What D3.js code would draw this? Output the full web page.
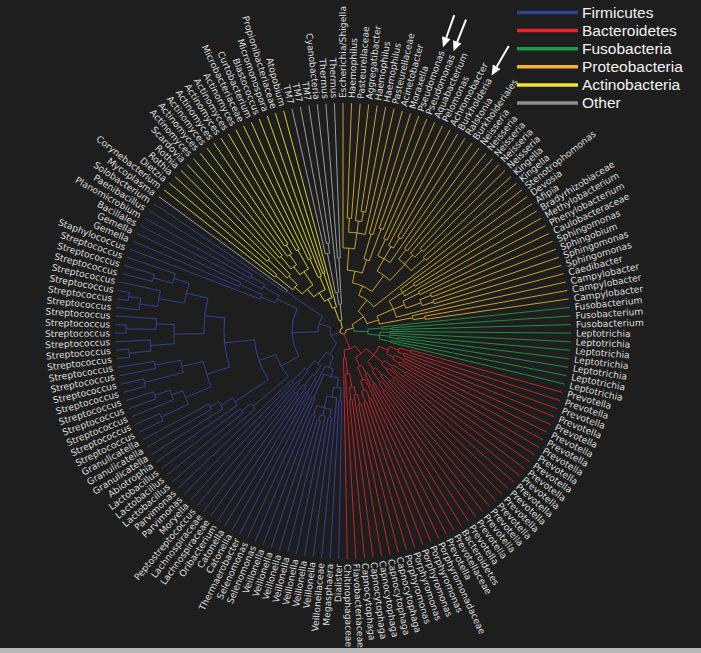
<!DOCTYPE html>
<html>
<head>
<meta charset="utf-8">
<script src="https://cdn.jsdelivr.net/npm/d3@7/dist/d3.min.js"></script>
<style>
  html, body { margin: 0; padding: 0; background: #1e1e1e; }
  svg { display: block; }
</style>
</head>
<body>
<svg id="chart" width="701" height="653"></svg>
<script>
// ---------------- DATA ----------------
const phyla = ["Firmicutes", "Bacteroidetes", "Fusobacteria", "Proteobacteria", "Actinobacteria", "Other"];
const legendColors = ["#313f95", "#e2242b", "#1a9a4a", "#f3b42f", "#efe52c", "#8e8e8e"];
const branchColors = ["#383e98", "#c3262e", "#1f8e45", "#c9a22c", "#d6cf2c", "#9c9c9c"];
const otherTaxa = ["Mycoplasma", "TM7", "Cyanobacteria", "Thermus"];

// Clades in Newick form (names, topology, internal branch lengths)
const pasteurellaceae = "((Haemophilus,Pasteurellaceae):14,(Aggregatibacter,(Haemophilus,Haemophilus):10):12,Pasteurellaceae)";
const gammaCore = `((Escherichia/Shigella,${pasteurellaceae}:16):22,((Acinetobacter,Moraxella):26,(Pseudomonas,Pseudomonas):34):14)`;
const betaProteo = "(((Aquabacterium,Pelomonas):18,(Achromobacter,(Burkholderia,Ralstonia):12):14,Burkholderiales):14,((Neisseria,Neisseria):12,(Neisseria,(Neisseria,Neisseria):10):12,(Kingella,Kingella):18):22)";
const alphaProteo = "((Devosia,(Afipia,Bradyrhizobiaceae):14,Methylobacterium):16,((Phenylobacterium,Caulobacteraceae):18,((Sphingomonas,Sphingobium):12,(Sphingomonas,Sphingomonas):12):16):12,Caedibacter)";
const epsilonProteo = "(Campylobacter,(Campylobacter,Campylobacter):12)";
const proteobacteria = `(((${gammaCore}:12,${betaProteo}:20):10,Stenotrophomonas):14,(${alphaProteo}:18,${epsilonProteo}:34):12):14`;

const fusobacteria = "((Fusobacterium,(Fusobacterium,Fusobacterium):10):14,((Leptotrichia,Leptotrichia):10,(Leptotrichia,(Leptotrichia,Leptotrichia):8):10,(Leptotrichia,Leptotrichia):12):12):14";

const prevotellaClade = "((((Prevotella,Prevotella):12,(Prevotella,Prevotella):6):10,((Prevotella,Prevotella):10,(Prevotella,Prevotella):8):8):10,(((Prevotella,Prevotella):14,Prevotella):10,(Prevotella,(Prevotella,Prevotella):10):8):12,(((Prevotella,Prevotella):10,Prevotella):10,(Prevotella,(Prevotella,Prevotella):8):15):10)";
const porphyroClade = "(((Bacteroidetes,Prevotellaceae):12,Prevotella):10,(Porphyromonadaceae,((Porphyromonas,Porphyromonas):10,(Porphyromonas,Porphyromonas):12):10):14)";
const flavoClade = "((((Capnocytophaga,Capnocytophaga):10,Capnocytophaga):8,(Capnocytophaga,Capnocytophaga):12):14,Flavobacteriaceae)";
const bacteroidetes = `((${prevotellaClade}:10,${porphyroClade}:10):10,(${flavoClade}:16,Chitinophagaceae):8):16`;

const negativicutes = "((((Dialister,Megasphaera):14,(Veillonellaceae,((Veillonella,Veillonella):8,(Veillonella,(Veillonella,Veillonella):6):8,(Veillonella,Veillonella):10):12):10):10,(Selenomonas,Selenomonas):26):8,Thermaerobacter)";
const clostridia = "(((Catonella,Catonella):18,(Oribacterium,(Lachnospiraceae,Lachnospiraceae):10):14):12,((Peptostreptococcus,Moryella):14,(Parvimonas,Parvimonas):18):12)";
const lactobacilli = "(Lactobacillus,(Lactobacillus,Lactobacillus):12)";
const carnobacteria = "(Abiotrophia,(Granulicatella,(Granulicatella,Granulicatella):10):14)";
const streptococci = "((((Streptococcus,Streptococcus):30,(Streptococcus,(Streptococcus,Streptococcus):16):12):28,((Streptococcus,Streptococcus):40,(Streptococcus,Streptococcus):26):22):24,((((Streptococcus,Streptococcus):22,Streptococcus):24,((Streptococcus,Streptococcus):30,Streptococcus):18):30,(((Streptococcus,(Streptococcus,Streptococcus):12):18,Streptococcus):26,((Streptococcus,Streptococcus):20,Streptococcus):16):22):20)";
const bacillales = "((Staphylococcus,(Gemella,Gemella):24):16,(Bacillales,(Planomicrobium,Paenibacillus):16):18)";
const firmicutes = `((${negativicutes}:12,${clostridia}:14):14,(((${lactobacilli}:46,(${carnobacteria}:40,${streptococci}:30):18):20,${bacillales}:22):26,(Solobacterium,Mycoplasma):44):12):10`;

const actinomycetes = "(((Actinomyces,Actinomyces):16,(Actinomyces,(Actinomyces,Actinomyces):10):12):10,(Actinomyces,Actinomyces):22)";
const actinobacteria = `((((((Corynebacterium,Dietzia):22,((Rothia,Rothia):26,Scardovia):12):10,${actinomycetes}:16):10,((Microbacteriaceae,Curtobacterium):20,Blastococcus):14):10,(Micromonospora,Propionibacteriaceae):26):10,Atopobium):14`;

const otherClade = "(((TM7,(TM7,TM7):10):40,Cyanobacteria):12,(Thermus,Thermus):46):16";

// leaves marked by arrows (index in clockwise order from the top)
const arrowLeaves = [9, 10, 14];

// ---------------- HELPERS ----------------
function parseNewick(s) {
  let i = 0;
  function node() {
    const n = {};
    if (s[i] === "(") {
      i++;
      n.children = [];
      while (true) {
        n.children.push(node());
        if (s[i] === ",") { i++; continue; }
        break;
      }
      i++; // ')'
    }
    let name = "";
    while (i < s.length && !",():;".includes(s[i])) name += s[i++];
    n.name = name.trim();
    n.len = 0;
    if (s[i] === ":") {
      i++;
      let num = "";
      while (i < s.length && !",();".includes(s[i])) num += s[i++];
      n.len = +num;
    }
    return n;
  }
  return node();
}
function tag(n, phylum) {
  if (n.children) n.children.forEach(c => tag(c, phylum));
  else n.phylum = otherTaxa.includes(n.name) ? "Other" : phylum;
}
function clade(str, phylum) { const t = parseNewick(str); tag(t, phylum); return t; }

const treeData = { len: 3, children: [
  { len: 8, children: [clade(proteobacteria, "Proteobacteria"), clade(fusobacteria, "Fusobacteria")] },
  clade(bacteroidetes, "Bacteroidetes"),
  clade(firmicutes, "Firmicutes"),
  { len: 8, children: [clade(actinobacteria, "Actinobacteria"), clade(otherClade, "Other")] }
]};

// ---------------- LAYOUT ----------------
const W = 701, H = 653, cx = 343, cy = 331, R = 228, gap = 5;
const svg = d3.select("#chart");
svg.append("rect").attr("width", W).attr("height", H).attr("fill", "#1e1e1e");
svg.append("rect").attr("x", 0).attr("y", H - 5).attr("width", W).attr("height", 5).attr("fill", "#b9b9b9");

const root = d3.hierarchy(treeData, d => d.children);
root.each(d => { d.r = (d.parent ? d.parent.r : 0) + (d.data.len || 0); });
d3.cluster().size([360, 1]).separation(() => 1)(root);
const nLeaves = root.leaves().length;
const offset = -180 / nLeaves;
root.each(d => { d.a = d.x + offset; });

// colour per node: majority phylum among leaves
root.eachAfter(d => {
  if (!d.children) { d.counts = {}; d.counts[d.data.phylum] = 1; }
  else {
    d.counts = {};
    d.children.forEach(c => { for (const k in c.counts) d.counts[k] = (d.counts[k] || 0) + c.counts[k]; });
  }
  let best = null, bv = -1;
  phyla.forEach(p => { const v = d.counts[p] || 0; if (v > bv) { bv = v; best = p; } });
  d.phylum = d.children ? best : d.data.phylum;
});
const branchColor = d3.scaleOrdinal().domain(phyla).range(branchColors);
const legendColor = d3.scaleOrdinal().domain(phyla).range(legendColors);

function pt(a, r) { const t = (a - 90) * Math.PI / 180; return [r * Math.cos(t), r * Math.sin(t)]; }
function linkPath(d) {
  const p = d.parent;
  const r0 = p.r, r1 = d.children ? d.r : R;
  const [x0, y0] = pt(p.a, r0), [x1, y1] = pt(d.a, r0), [x2, y2] = pt(d.a, r1);
  let s = `M${x0},${y0}`;
  if (Math.abs(d.a - p.a) > 1e-6 && r0 > 0)
    s += `A${r0},${r0} 0 0 ${d.a > p.a ? 1 : 0} ${x1},${y1}`;
  return s + `L${x2},${y2}`;
}

const g = svg.append("g").attr("transform", `translate(${cx},${cy})`);

g.append("g").attr("fill", "none").attr("stroke-width", 1)
  .selectAll("path").data(root.descendants().filter(d => d.parent))
  .join("path")
  .attr("stroke", d => branchColor(d.phylum))
  .attr("d", linkPath);

const labels = g.append("g")
  .attr("font-family", "'DejaVu Sans', Verdana, sans-serif")
  .attr("font-size", 9.2)
  .attr("fill", "#dcdcdc")
  .selectAll("text").data(root.leaves()).join("text")
  .attr("transform", d => `rotate(${d.a - 90}) translate(${R + gap},0)${d.a > 180 ? " rotate(180)" : ""}`)
  .attr("text-anchor", d => d.a > 180 ? "end" : "start")
  .attr("dy", "0.35em")
  .text(d => d.data.name);

// arrows pointing to selected leaf labels
const leafNodes = root.leaves();
const labelNodes = labels.nodes();
const arrowG = g.append("g");
arrowLeaves.forEach(idx => {
  const d = leafNodes[idx];
  const len = labelNodes[idx].getComputedTextLength();
  const tipR = R + gap + len + 4, tailR = tipR + 34;
  const [tx, ty] = pt(d.a, tipR), [bx, by] = pt(d.a, tipR + 10), [sx, sy] = pt(d.a, tailR);
  const t = (d.a - 90) * Math.PI / 180;
  const px = -Math.sin(t) * 4.5, py = Math.cos(t) * 4.5;
  arrowG.append("line").attr("x1", sx).attr("y1", sy).attr("x2", bx).attr("y2", by)
    .attr("stroke", "#ffffff").attr("stroke-width", 2);
  arrowG.append("path").attr("d", `M${tx},${ty}L${bx + px},${by + py}L${bx - px},${by - py}Z`).attr("fill", "#ffffff");
});

// legend
const legend = svg.append("g").attr("font-family", "'Liberation Sans', Arial, sans-serif").attr("font-size", 15.5);
phyla.forEach((p, i) => {
  const y = 12.5 + i * 18.1;
  legend.append("line").attr("x1", 517).attr("x2", 578).attr("y1", y).attr("y2", y)
    .attr("stroke", legendColor(p)).attr("stroke-width", 3.5);
  legend.append("text").attr("x", 582).attr("y", y).attr("dy", "0.35em").attr("fill", "#f2f2f2").text(p);
});
</script>
</body>
</html>
